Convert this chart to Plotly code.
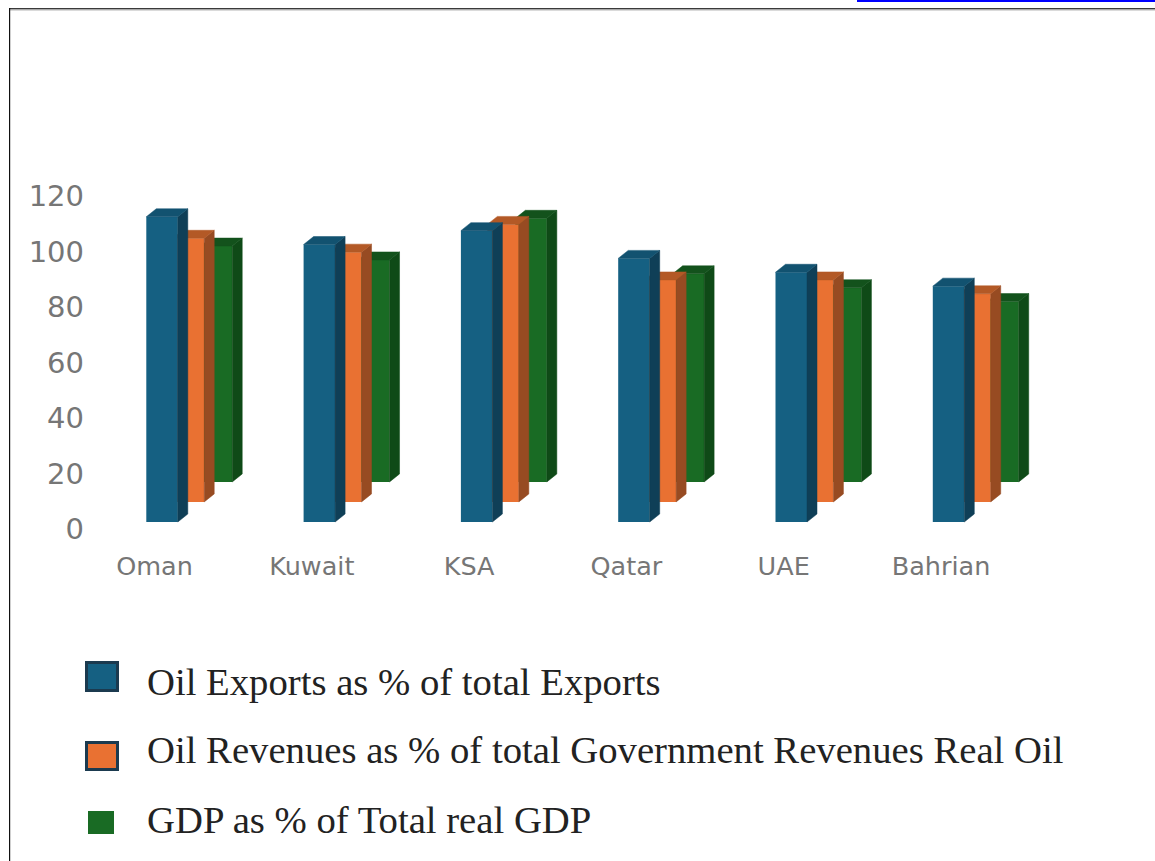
import plotly.graph_objects as go

WIDTH, HEIGHT = 1155, 861

categories = ["Oman", "Kuwait", "KSA", "Qatar", "UAE", "Bahrian"]
oil_exports = [110, 100, 105, 95, 90, 85]
oil_revenues = [95, 90, 100, 80, 80, 75]
real_oil_gdp = [85, 80, 95, 75, 70, 65]
y_ticks = [0, 20, 40, 60, 80, 100, 120]

legend_labels = [
    "Oil Exports as % of total Exports",
    "Oil Revenues as % of total Government Revenues Real Oil",
    "GDP as % of Total real GDP",
]

# Plot area in page pixels and the axis scales derived from it
PLOT_LEFT, PLOT_RIGHT = 85, 1060
PLOT_TOP, PLOT_BOTTOM = 196, 529
PX_PER_CATEGORY = 157.3
FIRST_TICK_PX = 154.5
PX_PER_UNIT = (PLOT_BOTTOM - PLOT_TOP) / 120

# Extruded look: each column has a side and a top face pushed back by this much
DEPTH_X = 10 / PX_PER_CATEGORY
DEPTH_Y = 8 / PX_PER_UNIT
BAR_WIDTH = 31.5 / PX_PER_CATEGORY

series = [
    # drawn back to front so that nearer columns hide farther ones
    dict(name="gdp", values=real_oil_gdp, axis="y", offset=0.394, floor=16.96,
         front="#196B24", side="#0F4A17", top="#13521C"),
    dict(name="revenues", values=oil_revenues, axis="y2", offset=0.216, floor=9.76,
         front="#E97132", side="#974B22", top="#B35926"),
    dict(name="exports", values=oil_exports, axis="y3", offset=0.048, floor=2.52,
         front="#156082", side="#0F3F57", top="#125270"),
]


def face_polygons(values, offset, floor, kind):
    """Outline of every column's side or top face, separated by gaps."""
    xs, ys = [], []
    half = BAR_WIDTH / 2
    for i, value in enumerate(values):
        left, right = i + offset - half, i + offset + half
        low, high = floor, floor + value
        if kind == "side":
            xs += [right, right + DEPTH_X, right + DEPTH_X, right, right, None]
            ys += [low, low + DEPTH_Y, high + DEPTH_Y, high, low, None]
        else:
            xs += [left, left + DEPTH_X, right + DEPTH_X, right, left, None]
            ys += [high, high + DEPTH_Y, high + DEPTH_Y, high, high, None]
    return xs, ys


fig = go.Figure()
for s in series:
    fig.add_trace(go.Bar(
        x=[i + s["offset"] for i in range(len(categories))],
        y=s["values"],
        base=s["floor"],
        width=BAR_WIDTH,
        yaxis=s["axis"],
        marker=dict(color=s["front"], line=dict(width=0)),
        showlegend=False,
        hoverinfo="skip",
    ))
    for kind in ("side", "top"):
        xs, ys = face_polygons(s["values"], s["offset"], s["floor"], kind)
        fig.add_trace(go.Scatter(
            x=xs, y=ys, yaxis=s["axis"], mode="lines", fill="toself",
            fillcolor=s[kind], line=dict(width=0.5, color=s[kind]),
            showlegend=False, hoverinfo="skip",
        ))


def paper_x(px):
    return px / WIDTH


def paper_y(px):
    return 1 - px / HEIGHT


def rect(x0, y0, x1, y1, fill, line=None, line_width=0):
    return dict(type="rect", xref="paper", yref="paper",
                x0=paper_x(x0), x1=paper_x(x1), y0=paper_y(y0), y1=paper_y(y1),
                fillcolor=fill, line=dict(color=line, width=line_width), layer="above")


shapes = [
    # Page frame and the link underline along the top edge
    rect(9, 8, WIDTH, 9.5, "#3A3A3A"),
    rect(9, 9.5, WIDTH, 10.5, "#B5B5B5"),
    rect(9, 8, 10.2, HEIGHT, "#111111"),
    rect(857, 0, WIDTH, 2, "#0000FF"),
    # Legend swatches
    rect(86.5, 662.5, 117.5, 690.5, "#156082", "#1B3A4F", 3),
    rect(86.5, 742.5, 117.5, 769.5, "#E97132", "#1B3A4F", 3),
    rect(88, 811, 114, 834, "#196B24"),
]

annotations = [
    dict(text=label, xref="paper", yref="paper", x=paper_x(145), y=paper_y(cy),
         xanchor="left", yanchor="middle", showarrow=False,
         font=dict(family="Liberation Serif", size=38.7, color="#222222"))
    for label, cy in zip(legend_labels, [682, 750, 820])
]

y_range = [0, 120]
fig.update_layout(
    width=WIDTH, height=HEIGHT,
    margin=dict(l=0, r=0, t=0, b=0, autoexpand=False),
    paper_bgcolor="white", plot_bgcolor="white",
    barmode="overlay",
    shapes=shapes,
    annotations=annotations,
    xaxis=dict(
        domain=[paper_x(PLOT_LEFT), paper_x(PLOT_RIGHT)],
        range=[(PLOT_LEFT - FIRST_TICK_PX) / PX_PER_CATEGORY,
               (PLOT_RIGHT - FIRST_TICK_PX) / PX_PER_CATEGORY],
        tickmode="array", tickvals=list(range(len(categories))), ticktext=categories,
        showgrid=False, zeroline=False, showline=False,
        ticks="outside", ticklen=14, tickcolor="rgba(0,0,0,0)",
        tickfont=dict(family="DejaVu Sans", size=25.5, color="#767676"),
    ),
    yaxis=dict(
        domain=[paper_y(PLOT_BOTTOM), paper_y(PLOT_TOP)],
        range=y_range, tickmode="array", tickvals=y_ticks,
        showgrid=False, zeroline=False, showline=False, ticks="",
        tickfont=dict(family="DejaVu Sans", size=29, color="#767676"),
    ),
    yaxis2=dict(overlaying="y", range=y_range, visible=False),
    yaxis3=dict(overlaying="y", range=y_range, visible=False),
)

fig.write_html("out.html")
